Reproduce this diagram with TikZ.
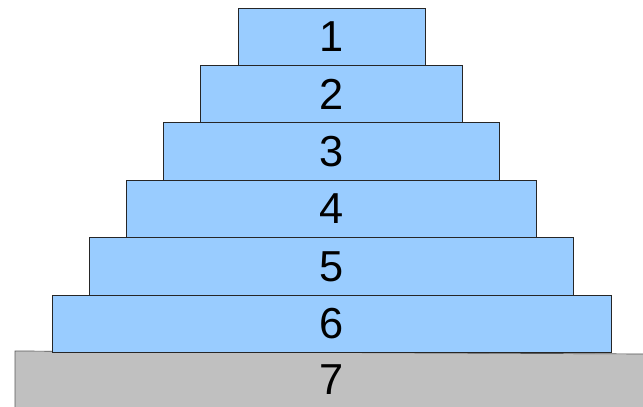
\documentclass[tikz,border=0pt]{standalone}
\usepackage{fontspec}
\setmainfont{Liberation Sans}
\definecolor{layerblue}{HTML}{99CCFF}
\definecolor{basegray}{HTML}{C0C0C0}
\begin{document}
\begin{tikzpicture}[x=0.03cm,y=-0.03cm,font=\fontsize{37}{40}\selectfont,
	layer/.style={draw=black!85,line width=0.6pt,fill=layerblue,minimum height=1.722cm,inner sep=0pt},
	base/.style={draw=black!65,line width=0.6pt,fill=basegray}]
	\useasboundingbox (0,0) rectangle (643,406);
	% base platform, cut off at the right and bottom
	\draw[base] (15,351) -- (650,354) -- (650,415) -- (15,415) -- cycle;
	\node (layer7) at (331.5,380) {7};
	% stacked layers
	\foreach \n in {6,5,...,1}{
		\pgfmathsetmacro{\w}{(187+74.4*(\n-1))*0.03}
		\node[layer,minimum width=\w cm] (layer\n) at (331.5,{36.7+57.4*(\n-1)}) {\n};
	}
\end{tikzpicture}
\end{document}
